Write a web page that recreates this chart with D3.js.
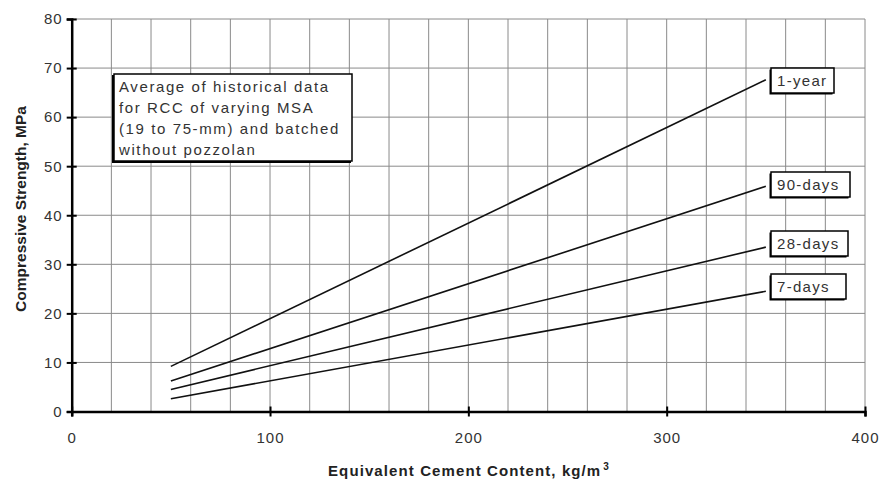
<!DOCTYPE html>
<html>
<head>
<meta charset="utf-8">
<script src="https://cdn.jsdelivr.net/npm/d3@7"></script>
<style>
  body { margin: 0; background: #fff; }
  text { font-family: "Liberation Sans", Arial, sans-serif; }
</style>
</head>
<body>
<svg id="chart" width="880" height="481"></svg>
<script>
"use strict";

// cement content (kg/m3) at the two ends of each line
var cementContent = [50, 350];
// compressive strength (MPa) per age
var seriesNames = ["1-year", "90-days", "28-days", "7-days"];
var strength1Year = [9.2, 67.6];
var strength90Days = [6.2, 45.9];
var strength28Days = [4.5, 33.5];
var strength7Days = [2.6, 24.5];
var xTicks = [0, 100, 200, 300, 400];
var yTicks = [0, 10, 20, 30, 40, 50, 60, 70, 80];
var noteLines = ["Average of historical data", "for RCC of varying MSA", "(19 to 75-mm) and batched", "without pozzolan"];

var allSeries = [strength1Year, strength90Days, strength28Days, strength7Days];

var svg = d3.select("#chart");
var x = d3.scaleLinear().domain([0, 400]).range([71.7, 865]);
var y = d3.scaleLinear().domain([0, 80]).range([411.5, 19]);

var g = svg.append("g");

// grid
g.selectAll(".vgrid")
  .data(d3.range(20, 401, 20))
  .enter().append("line")
    .attr("x1", d => x(d)).attr("x2", d => x(d))
    .attr("y1", y(0)).attr("y2", y(80))
    .attr("stroke", "#8a8a8a").attr("stroke-width", 1);
g.selectAll(".hgrid")
  .data(yTicks.slice(1))
  .enter().append("line")
    .attr("x1", x(0)).attr("x2", x(400))
    .attr("y1", d => y(d)).attr("y2", d => y(d))
    .attr("stroke", "#8a8a8a").attr("stroke-width", 1);

// axes
var xAxis = d3.axisBottom(x).tickValues(xTicks).tickSize(5).tickPadding(12);
var yAxis = d3.axisLeft(y).tickValues(yTicks).tickSize(5).tickPadding(4);

var gx = g.append("g").attr("transform", "translate(0," + y(0) + ")").call(xAxis);
var gy = g.append("g").attr("transform", "translate(" + x(0) + ",0)").call(yAxis);

[gx, gy].forEach(function(ax) {
  ax.select(".domain").attr("stroke", "#000").attr("stroke-width", 2.5);
  ax.selectAll(".tick line").attr("stroke", "#000").attr("stroke-width", 2);
  ax.selectAll(".tick text").attr("font-size", 15).attr("fill", "#333")
    .attr("letter-spacing", 1)
    .attr("font-family", "Liberation Sans, Arial, sans-serif");
});
// ticks cross the axis
gx.selectAll(".tick line").attr("y1", -5).attr("y2", 5);
gy.selectAll(".tick line").attr("x1", -5).attr("x2", 5);
gy.selectAll(".tick text").attr("x", -9);
gx.selectAll(".tick text").attr("dy", "0.95em");

// lines
var line = d3.line()
  .x((d, i) => x(cementContent[i]))
  .y(d => y(d));

g.selectAll(".series")
  .data(allSeries)
  .enter().append("path")
    .attr("d", d => line(d))
    .attr("fill", "none")
    .attr("stroke", "#111")
    .attr("stroke-width", 1.6);

// series labels
var labelTop = [68, 172, 231, 274];
var labelW = [63, 79, 77, 75];
var labels = g.selectAll(".lbl")
  .data(seriesNames)
  .enter().append("g")
    .attr("transform", (d, i) => "translate(771," + labelTop[i] + ")");
labels.append("rect")
  .attr("x", -1.5).attr("y", 1.5)
  .attr("width", (d, i) => labelW[i]).attr("height", 25)
  .attr("fill", "#000");
labels.append("rect")
  .attr("width", (d, i) => labelW[i]).attr("height", 25)
  .attr("fill", "#fff").attr("stroke", "#000").attr("stroke-width", 1.5);
labels.append("text")
  .attr("x", 6).attr("y", 18)
  .attr("font-size", 15).attr("fill", "#333")
  .attr("letter-spacing", 1.3)
  .text(d => d);

// note box
var note = g.append("g").attr("transform", "translate(114,74)");
note.append("rect")
  .attr("x", -2).attr("y", 1).attr("width", 239).attr("height", 88)
  .attr("fill", "#000");
note.append("rect")
  .attr("width", 238).attr("height", 87)
  .attr("fill", "#fff").attr("stroke", "#000").attr("stroke-width", 1.5);
note.selectAll("text")
  .data(noteLines)
  .enter().append("text")
    .attr("x", 5)
    .attr("y", (d, i) => 18 + i * 21)
    .attr("font-size", 15)
    .attr("fill", "#333")
    .attr("letter-spacing", 1.6)
    .text(d => d);

// axis titles
var xt = svg.append("text")
  .attr("x", 469).attr("y", 476)
  .attr("text-anchor", "middle")
  .attr("font-size", 15).attr("font-weight", "bold").attr("fill", "#222")
  .attr("letter-spacing", 1.1);
xt.append("tspan").text("Equivalent Cement Content, kg/m");
xt.append("tspan").attr("font-size", 10).attr("dy", -6).attr("dx", 2).text("3");

svg.append("text")
  .attr("transform", "translate(26,209) rotate(-90)")
  .attr("text-anchor", "middle")
  .attr("font-size", 15.5).attr("font-weight", "bold").attr("fill", "#222")
  .text("Compressive Strength, MPa");
</script>
</body>
</html>
